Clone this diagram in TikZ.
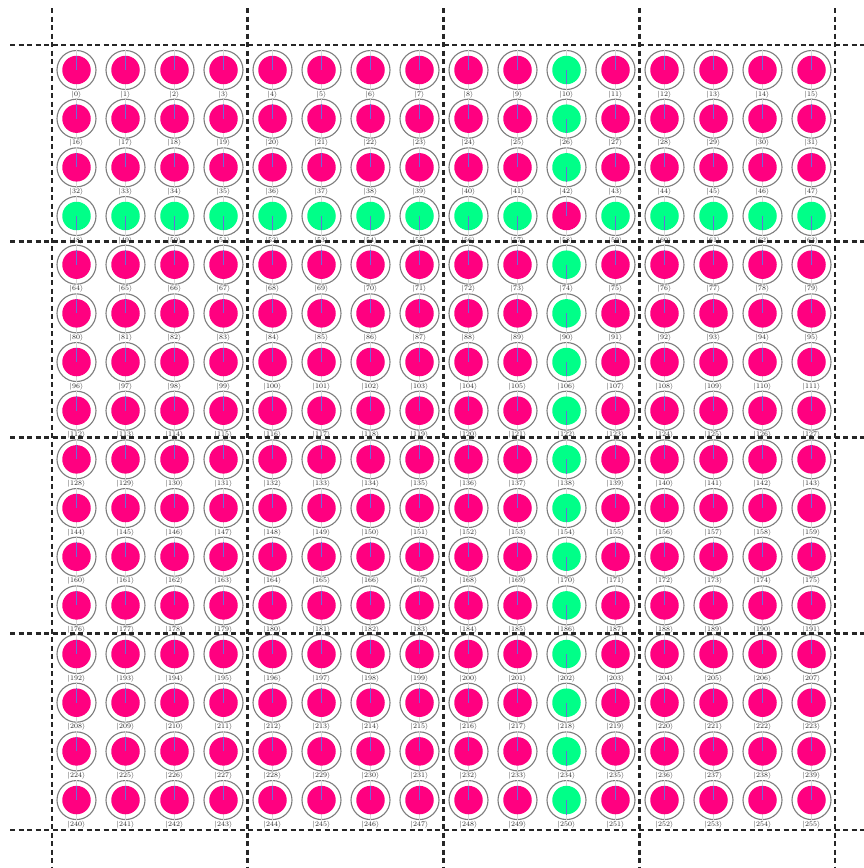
\documentclass[tikz,border=0pt]{standalone}
\definecolor{offamp}{HTML}{FF0080}
\definecolor{onamp}{HTML}{00FF88}
\definecolor{needle}{RGB}{105,110,215}
\definecolor{ringgray}{RGB}{125,125,125}
\definecolor{axisgray}{RGB}{215,215,215}
\tikzset{
  ring/.style={circle,draw=ringgray,line width=1.1pt,minimum size=39pt,inner sep=0pt},
  diskoff/.style={circle,fill=offamp,minimum size=28.5pt,inner sep=0pt},
  diskon/.style={circle,fill=onamp,minimum size=28.5pt,inner sep=0pt},
  axisline/.style={draw=axisgray,line width=0.6pt},
  needleline/.style={draw=needle,line width=1.4pt},
  ketlabel/.style={inner sep=0pt,font=\fontsize{7.5}{7.5}\selectfont,text=black!85},
  gridline/.style={draw=black!85,line width=2.6pt,dash pattern=on 5pt off 3.5pt}
}
\begin{document}
\begin{tikzpicture}[x=1pt,y=-1pt]
\useasboundingbox[fill=white] (0,0) rectangle (864,868);
\foreach \r in {0,...,15}{
  \foreach \c in {0,...,15}{
    \pgfmathtruncatemacro\idx{16*\r+\c}
    \pgfmathsetmacro\cx{52+49*\c+24.5}
    \pgfmathsetmacro\cy{70+48.67*\r}
    \pgfmathtruncatemacro\g{((\r==3)!=(\c==10))}
    \node[ring] (o\idx) at (\cx,\cy) {};
    \draw[axisline] (o\idx.north) -- (o\idx.south);
    \ifnum\g=1
      \node[diskon] (d\idx) at (\cx,\cy) {};
      \draw[needleline] (d\idx.center) -- (d\idx.south);
    \else
      \node[diskoff] (d\idx) at (\cx,\cy) {};
      \draw[needleline] (d\idx.center) -- (d\idx.north);
    \fi
    \node[ketlabel] (k\idx) at (\cx,\cy+24.5) {$|\idx\rangle$};
  }
}
\foreach \k in {0,...,4}{
  \pgfmathsetmacro\vx{52+195.75*\k}
  \pgfmathsetmacro\hy{45+196.25*\k}
  \coordinate (vt\k) at (\vx,8);
  \coordinate (vb\k) at (\vx,868);
  \coordinate (hl\k) at (10,\hy);
  \coordinate (hr\k) at (864,\hy);
  \draw[gridline] (vt\k) -- (vb\k);
  \draw[gridline] (hl\k) -- (hr\k);
}
\end{tikzpicture}
\end{document}
